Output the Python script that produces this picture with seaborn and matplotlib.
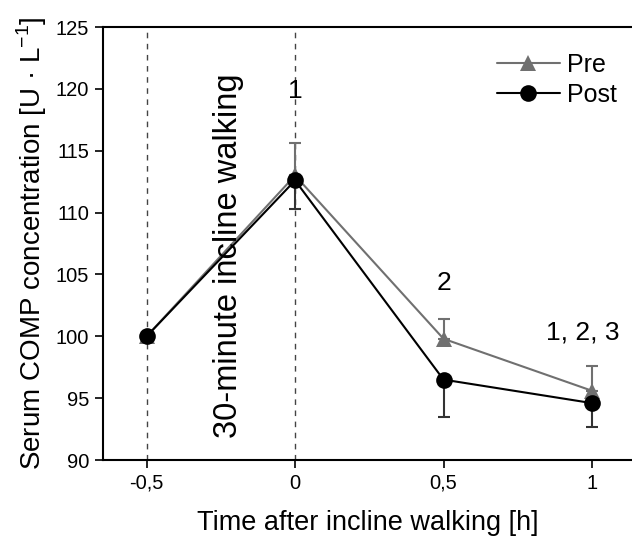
import matplotlib
matplotlib.use("Agg")
import matplotlib.pyplot as plt
import seaborn as sns
import pandas as pd
import numpy as np
from matplotlib.lines import Line2D

time = [-0.5, 0.0, 0.5, 1.0]
pre_mean = [100.0, 113.0, 99.8, 95.6]
pre_err_up = [0.0, 2.6, 1.6, 2.0]
post_mean = [100.0, 112.6, 96.5, 94.6]
post_err_down = [0.0, 2.3, 3.0, 1.9]
x_ticks = [-0.5, 0.0, 0.5, 1.0]
x_tick_labels = ["-0,5", "0", "0,5", "1"]
y_ticks = [90, 95, 100, 105, 110, 115, 120, 125]
annotations = [(0.0, 119.8, "1"), (0.5, 104.3, "2"), (0.97, 100.3, "1, 2, 3")]

sns.set_style("ticks")
plt.rcParams['font.family'] = ['Liberation Sans', 'DejaVu Sans']
for k in ["text.color", "axes.labelcolor", "xtick.color", "ytick.color", "axes.edgecolor"]:
    plt.rcParams[k] = "black"

fig = plt.figure(figsize=(6.32, 5.41), dpi=100)
ax = fig.add_axes([0.163, 0.1497, 0.837, 0.8003])

pre_col = "#707070"
post_col = "#000000"

for xv in [-0.5, 0.0]:
    ax.axvline(xv, color="#444444", ls=(0, (4, 4)), lw=1.0, zorder=0)

df = pd.DataFrame({
    "time": time * 2,
    "value": pre_mean + post_mean,
    "group": ["Pre"] * 4 + ["Post"] * 4,
})
sns.lineplot(data=df, x="time", y="value", hue="group", style="group",
             palette={"Pre": pre_col, "Post": post_col},
             markers={"Pre": "^", "Post": "o"}, dashes=False,
             markersize=12, markeredgewidth=0, linewidth=1.5, ax=ax, legend=False)

ax.errorbar(time, pre_mean, yerr=[np.zeros(4), pre_err_up], fmt="none",
            ecolor=pre_col, elinewidth=1.5, capsize=4, capthick=1.5, zorder=1)
ax.errorbar(time, post_mean, yerr=[post_err_down, np.zeros(4)], fmt="none",
            ecolor="#333333", elinewidth=1.5, capsize=4, capthick=1.5, zorder=1)

handles = [Line2D([], [], color=pre_col, marker="^", markersize=12, lw=1.5, markeredgewidth=0),
           Line2D([], [], color=post_col, marker="o", markersize=12, lw=1.5, markeredgewidth=0)]
ax.legend(handles, ["Pre", "Post"], loc="upper right", bbox_to_anchor=(1.0, 0.975),
          frameon=False, fontsize=18, handlelength=2.5, handletextpad=0.3, labelspacing=0.25,
          borderaxespad=0.2)

for xa, ya, t in annotations:
    ax.text(xa, ya, t, ha="center", va="center", fontsize=19)

ax.text(-0.225, 106.5, "30-minute incline walking", rotation=90, ha="center", va="center", fontsize=23.5)

ax.set_xlim(-0.647, 1.135)
ax.set_ylim(90, 125)
ax.set_xticks(x_ticks)
ax.set_xticklabels(x_tick_labels)
ax.set_yticks(y_ticks)
ax.tick_params(labelsize=14.5, length=6, width=1.2, direction="out", pad=4)
for s in ["left", "bottom", "top"]:
    ax.spines[s].set_linewidth(1.5)
    ax.spines[s].set_visible(True)
ax.spines["right"].set_visible(False)

ax.set_xlabel("Time after incline walking [h]", fontsize=19.5, labelpad=12)
ax.set_ylabel("Serum COMP concentration [U · L$^{\\mathregular{-1}}$]", fontsize=20, labelpad=5)

fig.savefig("out.png", dpi=100)
